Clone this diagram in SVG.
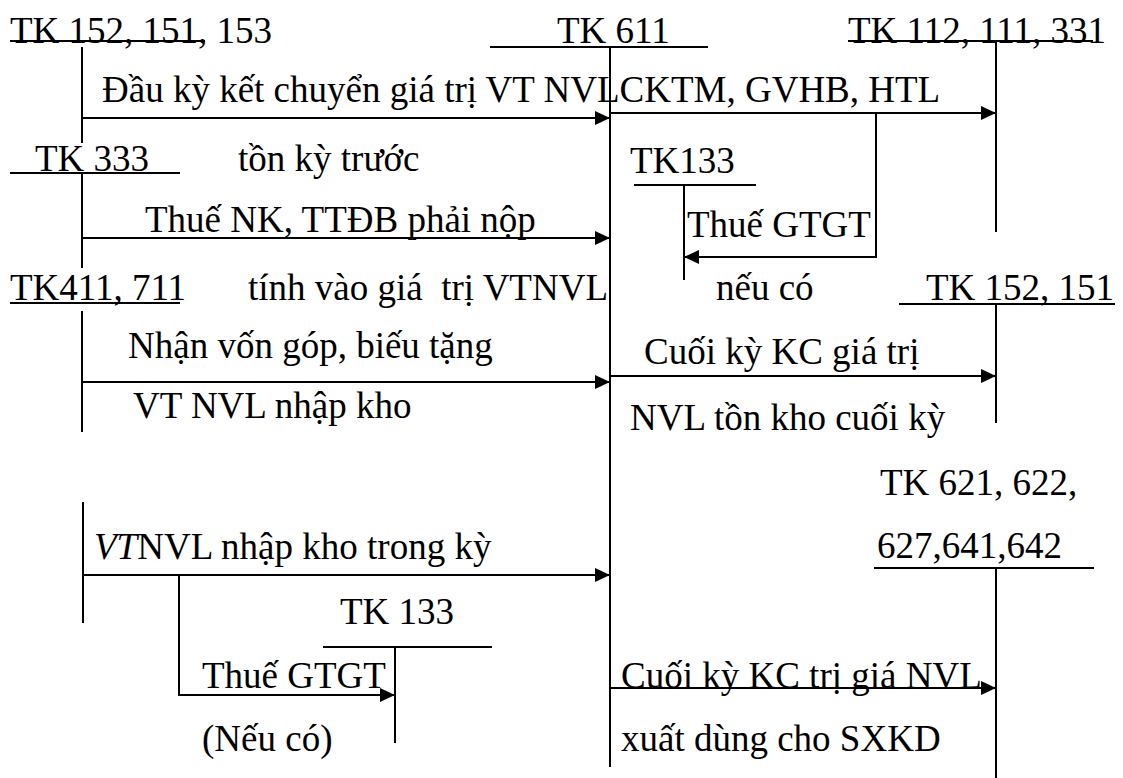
<svg xmlns="http://www.w3.org/2000/svg" width="1123" height="778" viewBox="0 0 1123 778" font-family="'Liberation Serif', 'Times New Roman', Times, serif">
  <style>
    text { font-family: "Liberation Serif", "Times New Roman", Times, "DejaVu Serif", serif; font-size: 37px; fill: #000; white-space: pre; }
    .it { font-style: italic; }
    .ln { stroke: #000; stroke-width: 2; fill: none; }
    .ar { stroke: #000; stroke-width: 2; fill: none; marker-end: url(#head); }
  </style>
  <defs>
    <marker id="head" markerUnits="userSpaceOnUse" markerWidth="16" markerHeight="14" refX="15" refY="7" orient="auto">
      <path d="M0,0 L15,7 L0,14 Z" fill="#000"/>
    </marker>
  </defs>
  <rect width="1123" height="778" fill="#fff"/>

  <!-- T-accounts: title, rule and centre stem -->
  <g id="tk152-151-153">
    <text x="10" y="43">TK 152, 151, 153</text>
    <line class="ln" x1="10" y1="41" x2="205" y2="41"/>
    <line class="ln" x1="82" y1="47" x2="82" y2="143"/>
  </g>
  <g id="tk611">
    <text x="557" y="43">TK 611</text>
    <line class="ln" x1="490" y1="47" x2="708" y2="47"/>
    <line class="ln" x1="610" y1="47" x2="610" y2="767"/>
  </g>
  <g id="tk112-111-331">
    <text x="848" y="43">TK 112, 111, 331</text>
    <line class="ln" x1="848" y1="41" x2="1093" y2="41"/>
    <line class="ln" x1="996" y1="41" x2="996" y2="232"/>
  </g>
  <g id="tk333">
    <text x="35" y="171">TK 333</text>
    <line class="ln" x1="10" y1="173" x2="180" y2="173"/>
    <line class="ln" x1="82" y1="173" x2="82" y2="268"/>
  </g>
  <g id="tk133-a">
    <text x="630" y="173">TK133</text>
    <line class="ln" x1="634" y1="185" x2="756" y2="185"/>
    <line class="ln" x1="684" y1="185" x2="684" y2="280"/>
  </g>
  <g id="tk411-711">
    <text x="10" y="300">TK411, 711</text>
    <line class="ln" x1="10" y1="303" x2="180" y2="303"/>
    <line class="ln" x1="82" y1="311" x2="82" y2="432"/>
  </g>
  <g id="tk152-151">
    <text x="926" y="300">TK 152, 151</text>
    <line class="ln" x1="899" y1="304" x2="1115" y2="304"/>
    <line class="ln" x1="996" y1="304" x2="996" y2="423"/>
  </g>
  <g id="tk621-642">
    <text x="880" y="495">TK 621, 622,</text>
    <text x="877" y="558">627,641,642</text>
    <line class="ln" x1="874" y1="568" x2="1094" y2="568"/>
    <line class="ln" x1="996" y1="568" x2="996" y2="778"/>
  </g>
  <g id="tk-source-lower">
    <line class="ln" x1="83" y1="502" x2="83" y2="623"/>
  </g>
  <g id="tk133-b">
    <text x="340" y="624">TK 133</text>
    <line class="ln" x1="323" y1="647" x2="492" y2="647"/>
    <line class="ln" x1="395" y1="647" x2="395" y2="743"/>
  </g>

  <!-- Postings between accounts -->
  <g id="connectors">
    <line class="ar" x1="82" y1="118" x2="610" y2="118"/>
    <line class="ar" x1="610" y1="113" x2="996" y2="113"/>
    <path class="ar" d="M876,113 V257 H684"/>
    <line class="ar" x1="82" y1="238" x2="610" y2="238"/>
    <line class="ar" x1="82" y1="382" x2="610" y2="382"/>
    <line class="ar" x1="610" y1="376" x2="996" y2="376"/>
    <line class="ar" x1="83" y1="575" x2="610" y2="575"/>
    <path class="ar" d="M179,575 V695 H395"/>
    <line class="ar" x1="610" y1="688" x2="996" y2="688"/>
  </g>

  <!-- Posting labels -->
  <g id="labels">
    <text x="102" y="102">Đầu kỳ kết chuyển giá trị VT NVLCKTM, GVHB, HTL</text>
    <text x="238" y="171">tồn kỳ trước</text>
    <text x="145" y="232">Thuế NK, TTĐB phải nộp</text>
    <text x="687" y="237">Thuế GTGT</text>
    <text x="248" y="300">tính vào giá  trị VTNVL</text>
    <text x="716" y="300">nếu có</text>
    <text x="128" y="358">Nhận vốn góp, biếu tặng</text>
    <text x="644" y="364">Cuối kỳ KC giá trị</text>
    <text x="133" y="418">VT NVL nhập kho</text>
    <text x="630" y="430">NVL tồn kho cuối kỳ</text>
    <text x="94" y="559"><tspan class="it">VT</tspan>NVL nhập kho trong kỳ</text>
    <text x="202" y="688">Thuế GTGT</text>
    <text x="621" y="688">Cuối kỳ KC trị giá NVL</text>
    <text x="202" y="751">(Nếu có)</text>
    <text x="621" y="751">xuất dùng cho SXKD</text>
  </g>
</svg>
